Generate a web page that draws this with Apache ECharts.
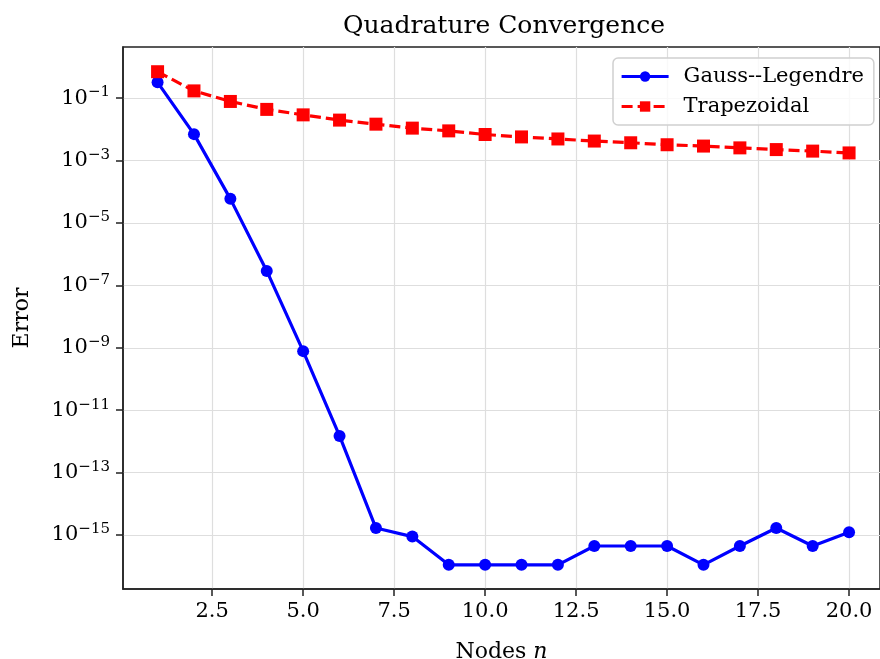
<!DOCTYPE html>
<html>
<head>
<meta charset="utf-8">
<script src="https://cdn.jsdelivr.net/npm/echarts@6/dist/echarts.min.js"></script>
<style>
  html, body { margin: 0; padding: 0; background: #fff; }
  #chart { width: 880px; height: 659px; }
</style>
</head>
<body>
<div id="chart"></div>
<script>
const nodes = [1, 2, 3, 4, 5, 6, 7, 8, 9, 10, 11, 12, 13, 14, 15, 16, 17, 18, 19, 20]
const gaussError = [3.2e-1, 7.0e-3, 5.9e-5, 2.9e-7, 7.8e-10, 1.5e-12, 1.67e-15, 8.9e-16, 1.11e-16, 1.11e-16,
  1.11e-16, 1.11e-16, 4.44e-16, 4.44e-16, 4.44e-16, 1.11e-16, 4.44e-16, 1.67e-15, 4.44e-16, 1.22e-15]
const trapError = [0.7, 0.17, 0.078, 0.0434, 0.029, 0.0197, 0.0146, 0.0109, 0.0089, 0.0068,
  0.0057, 0.0049, 0.0042, 0.0037, 0.0032, 0.0029, 0.00254, 0.00224, 0.0020, 0.00175]
const xTicks = [2.5, 5, 7.5, 10, 12.5, 15, 17.5, 20]
const yTickExps = [-15, -13, -11, -9, -7, -5, -3, -1]

const font = 'DejaVu Serif'
// log10 of the errors, plotted on a linear axis
const toLog = arr => arr.map((v, i) => [nodes[i], Math.log10(v)])

const chart = echarts.init(document.getElementById('chart'))
chart.setOption({
  animation: false,
  title: {
    text: 'Quadrature Convergence',
    left: 338,
    top: 9,
    textStyle: { fontFamily: font, fontSize: 25, fontWeight: 'normal', color: '#000' }
  },
  grid: {
    left: 123, top: 47, right: 0, bottom: 70,
    outerBoundsMode: 'none',
    show: true, borderColor: '#222', borderWidth: 1.5
  },
  legend: {
    data: ['Gauss--Legendre', 'Trapezoidal'],
    orient: 'vertical',
    left: 613,
    top: 58,
    itemWidth: 47,
    itemHeight: 13,
    itemGap: 9,
    padding: [8, 10, 8, 7],
    borderColor: '#d0d0d0',
    borderWidth: 1.5,
    borderRadius: 5,
    backgroundColor: 'rgba(255,255,255,0.8)',
    lineStyle: { width: 3.2 },
    textStyle: { fontFamily: font, fontSize: 21, color: '#000', padding: [0, 0, 0, 10] }
  },
  xAxis: {
    type: 'value',
    min: 0.05,
    max: 20.85,
    name: 'Nodes {i|n}',
    nameLocation: 'middle',
    nameGap: 52,
    nameTextStyle: {
      fontFamily: font, fontSize: 22, color: '#000',
      rich: { i: { fontFamily: font, fontSize: 22, fontStyle: 'italic', color: '#000' } }
    },
    axisLine: { show: true, onZero: false, lineStyle: { color: '#222', width: 1.5 } },
    axisTick: { show: true, length: 7, customValues: xTicks, lineStyle: { color: '#222', width: 1.5 } },
    axisLabel: {
      customValues: xTicks,
      margin: 12,
      fontFamily: font, fontSize: 21, color: '#000',
      formatter: v => v.toFixed(1)
    },
    splitLine: { show: true, lineStyle: { color: '#dedede', width: 1.2 } }
  },
  yAxis: {
    type: 'value',
    min: -16.73,
    max: 0.637,
    name: 'Error',
    nameLocation: 'middle',
    nameGap: 90,
    nameTextStyle: { fontFamily: font, fontSize: 22, color: '#000' },
    axisLine: { show: true, onZero: false, lineStyle: { color: '#222', width: 1.5 } },
    axisTick: { show: true, length: 7, customValues: yTickExps, lineStyle: { color: '#222', width: 1.5 } },
    axisLabel: {
      customValues: yTickExps,
      margin: 13,
      color: '#000',
      formatter: v => '{b|10}{s|\u2212' + Math.abs(v) + '}',
      rich: {
        b: { fontFamily: font, fontSize: 21, lineHeight: 26, color: '#000' },
        s: { fontFamily: font, fontSize: 15, lineHeight: 15, verticalAlign: 'top', color: '#000' }
      }
    },
    splitLine: { show: true, lineStyle: { color: '#dedede', width: 1.2 } }
  },
  series: [
    {
      name: 'Gauss--Legendre',
      type: 'line',
      data: toLog(gaussError),
      symbol: 'circle',
      symbolSize: 12,
      lineStyle: { color: '#0000ff', width: 3.2 },
      itemStyle: { color: '#0000ff' }
    },
    {
      name: 'Trapezoidal',
      type: 'line',
      data: toLog(trapError),
      symbol: 'rect',
      symbolSize: 13,
      lineStyle: { color: '#ff0000', width: 3.2, type: [11, 5] },
      itemStyle: { color: '#ff0000' }
    }
  ]
})
</script>
</body>
</html>
